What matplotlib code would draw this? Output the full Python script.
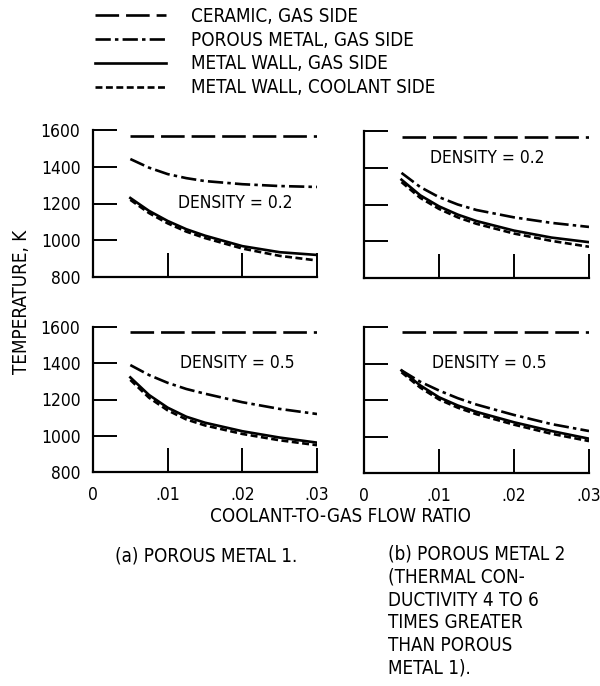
import numpy as np
import matplotlib
matplotlib.use("Agg")
import matplotlib.pyplot as plt

plt.rcParams['font.family'] = ['DejaVu Sans']
plt.rcParams['font.stretch'] = 'condensed'
plt.rcParams['lines.scale_dashes'] = False

# coolant-to-gas flow ratio (read points)
flow = [0.005, 0.0075, 0.01, 0.0125, 0.015, 0.02, 0.025, 0.03]

# ceramic gas side, roughly flat
ceramic_x = [0.005, 0.03]
ceramic_t = [1570, 1570]

# (a) porous metal 1, density 0.2
a02_porous = [1442, 1395, 1360, 1338, 1322, 1305, 1295, 1290]
a02_metal = [1230, 1160, 1105, 1060, 1025, 968, 935, 920]
a02_cool = [1220, 1148, 1092, 1047, 1012, 955, 915, 890]
# (b) porous metal 2, density 0.2
b02_porous = [1372, 1295, 1240, 1200, 1170, 1130, 1100, 1078]
b02_metal = [1335, 1250, 1190, 1145, 1110, 1058, 1020, 995]
b02_cool = [1322, 1236, 1176, 1130, 1095, 1042, 1002, 970]
# (a) density 0.5
a05_porous = [1390, 1335, 1292, 1258, 1232, 1185, 1148, 1120]
a05_metal = [1322, 1225, 1155, 1105, 1072, 1025, 990, 962]
a05_cool = [1308, 1210, 1140, 1090, 1057, 1010, 975, 948]
# (b) density 0.5
b05_porous = [1362, 1300, 1252, 1210, 1175, 1118, 1068, 1030]
b05_metal = [1362, 1280, 1215, 1170, 1135, 1078, 1030, 988]
b05_cool = [1352, 1268, 1203, 1158, 1122, 1065, 1015, 975]

yticks = [800, 1000, 1200, 1400, 1600]
xticks = [0, 0.01, 0.02, 0.03]
xticklabels = ['0', '.01', '.02', '.03']

legend_labels = ['CERAMIC, GAS SIDE', 'POROUS METAL, GAS SIDE',
                 'METAL WALL, GAS SIDE', 'METAL WALL, COOLANT SIDE']

W, H = 600, 686
fig = plt.figure(figsize=(6, 6.86), dpi=100)

def box(x0, x1, ytop, ybot):
    return [x0 / W, 1 - ybot / H, (x1 - x0) / W, (ybot - ytop) / H]

panels = [
    (box(93, 317, 130, 277), a02_porous, a02_metal, a02_cool, 'DENSITY = 0.2', (0.0114, 1200), True, False),
    (box(364, 589, 131, 278), b02_porous, b02_metal, b02_cool, 'DENSITY = 0.2', (0.0088, 1455), False, False),
    (box(93, 317, 327, 472), a05_porous, a05_metal, a05_cool, 'DENSITY = 0.5', (0.0116, 1400), True, True),
    (box(364, 589, 327, 473), b05_porous, b05_metal, b05_cool, 'DENSITY = 0.5', (0.0091, 1400), False, True),
]

fs = 13.5
tfs = 12.5
lw = 1.9
handles = []
for rect, por, met, cool, lab, lpos, showy, showx in panels:
    ax = fig.add_axes(rect)
    h1, = ax.plot(ceramic_x, ceramic_t, color='black', lw=lw, dashes=(17, 5))
    h2, = ax.plot(flow, por, color='black', lw=lw, dashes=(11, 3, 2.5, 3))
    h3, = ax.plot(flow, met, color='black', lw=lw)
    h4, = ax.plot(flow, cool, color='black', lw=lw, dashes=(5, 2.5))
    handles = [h1, h2, h3, h4]
    ax.set_xlim(0, 0.03)
    ax.set_ylim(800, 1600)
    ax.set_yticks(yticks)
    ax.set_xticks(xticks)
    for s in ['top', 'right']:
        ax.spines[s].set_visible(False)
    for s in ['left', 'bottom']:
        ax.spines[s].set_linewidth(1.6)
    ax.tick_params(direction='in', length=17, width=1.4, labelsize=tfs,
                   left=True, bottom=True)
    ax.tick_params(axis='y', pad=9)
    ax.tick_params(axis='x', pad=10)
    if not showy:
        ax.set_yticklabels([])
    if showx:
        ax.set_xticklabels(xticklabels)
    else:
        ax.set_xticklabels([])
    ax.text(lpos[0], lpos[1], lab, fontsize=tfs, ha='left', va='center')
    ax.patch.set_alpha(0)

fig.legend(handles, legend_labels, loc='upper left', bbox_to_anchor=(95 / W, 1 - 7 / H),
           frameon=False, fontsize=fs, handlelength=3.8, handletextpad=1.3,
           labelspacing=0.25, borderpad=0, borderaxespad=0)

fig.text(22 / W, 1 - 302 / H, 'TEMPERATURE, K', rotation=90, fontsize=fs,
         ha='center', va='center')
fig.text(341 / W, 1 - 516 / H, 'COOLANT-TO-GAS FLOW RATIO', fontsize=fs,
         ha='center', va='center')
fig.text(206 / W, 1 - 556 / H, '(a) POROUS METAL 1.', fontsize=fs,
         ha='center', va='center')
fig.text(388 / W, 1 - 545 / H,
         '(b) POROUS METAL 2\n(THERMAL CON-\nDUCTIVITY 4 TO 6\nTIMES GREATER\nTHAN POROUS\nMETAL 1).',
         fontsize=fs, ha='left', va='top', linespacing=1.25)

fig.savefig('out.png', dpi=100)
